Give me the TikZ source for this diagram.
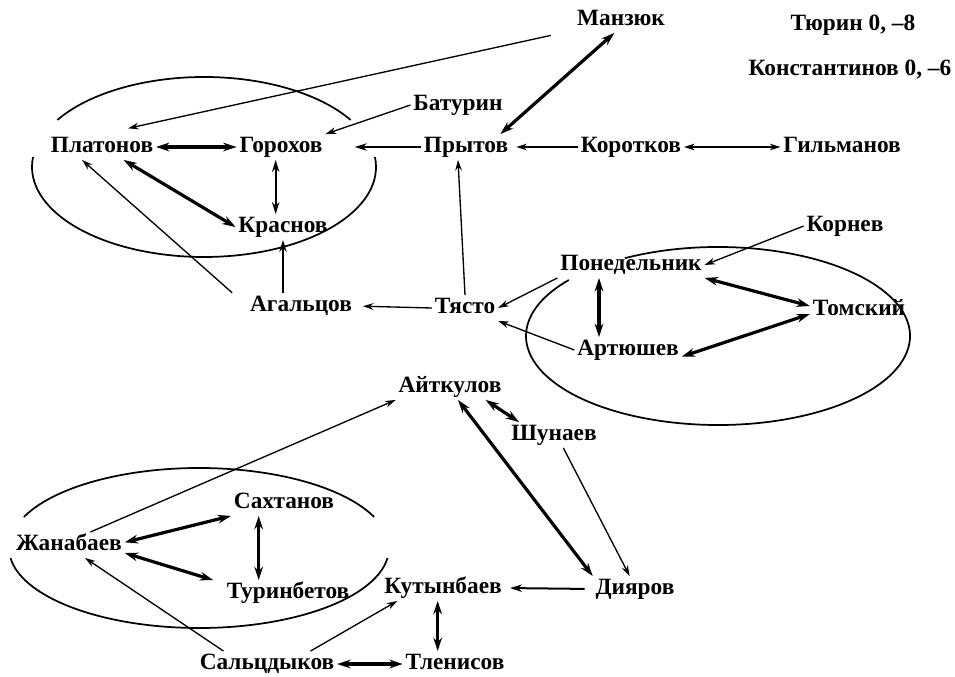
\documentclass[tikz,border=0pt]{standalone}
\usepackage{fontspec}
\setmainfont{Liberation Serif}
\usetikzlibrary{arrows.meta}
\begin{document}
\begin{tikzpicture}[x=0.75pt,y=-0.75pt,
  lbl/.style={inner sep=2pt, text height=11.5pt, text depth=3.5pt, font=\fontsize{17.5}{20}\selectfont\bfseries},
  ell/.style={line width=1.3pt},
  a1/.style={line width=1pt,-{Stealth[length=8pt,width=5pt]}},
  a2/.style={line width=1pt,{Stealth[length=8pt,width=5pt]}-{Stealth[length=8pt,width=5pt]}},
  m1/.style={line width=1.5pt,-{Stealth[length=9pt,width=5.5pt]}},
  m2/.style={line width=1.5pt,{Stealth[length=9pt,width=5.5pt]}-{Stealth[length=9pt,width=5.5pt]}},
  b2/.style={line width=2.4pt,{Stealth[length=10pt,width=6.5pt]}-{Stealth[length=10pt,width=6.5pt]}}
]
\useasboundingbox[fill=white] (0,0) rectangle (955,677);

% ellipses
\draw[ell] (204,167) ++(211.5:172 and 90) arc[start angle=211.5, end angle=328.5, x radius=172, y radius=90];
\draw[ell] (204,167) ++(-6.4:172 and 90) arc[start angle=-6.4, end angle=186.4, x radius=172, y radius=90];
\draw[ell] (718,336) ++(241:192 and 89) arc[start angle=241, end angle=579, x radius=192, y radius=89];
\draw[ell] (199,548) ++(202.8:190 and 80) arc[start angle=202.8, end angle=337.2, x radius=190, y radius=80];
\draw[ell] (199,548) ++(7.2:190 and 80) arc[start angle=7.2, end angle=172.8, x radius=190, y radius=80];

% nodes
\node[lbl] (man) at (621,20) {Манзюк};
\node[lbl] (tyu) at (853,25) {Тюрин 0, –8};
\node[lbl] (kon) at (850,70) {Константинов 0, –6};
\node[lbl] (bat) at (458,105) {Батурин};
\node[lbl] (pla) at (102,147) {Платонов};
\node[lbl] (gor) at (281,147) {Горохов};
\node[lbl] (pry) at (466,147) {Прытов};
\node[lbl] (kot) at (631,147) {Коротков};
\node[lbl] (gil) at (842,147) {Гильманов};
\node[lbl] (kra) at (283,227) {Краснов};
\node[lbl] (krn) at (845,226) {Корнев};
\node[lbl] (pon) at (631,265) {Понедельник};
\node[lbl] (aga) at (301,306) {Агальцов};
\node[lbl] (tya) at (465,308) {Тясто};
\node[lbl] (tom) at (859,310) {Томский};
\node[lbl] (art) at (628,350) {Артюшев};
\node[lbl] (ajt) at (450,387) {Айткулов};
\node[lbl] (shu) at (554,435) {Шунаев};
\node[lbl] (sah) at (284,503) {Сахтанов};
\node[lbl] (zha) at (69,545) {Жанабаев};
\node[lbl] (tur) at (288,593) {Туринбетов};
\node[lbl] (kut) at (443,588) {Кутынбаев};
\node[lbl] (diy) at (635,589) {Дияров};
\node[lbl] (sal) at (267,664) {Сальцдыков};
\node[lbl] (tle) at (455,664) {Тленисов};

% connectors
\draw[a1, shorten <=18pt, shorten >=20pt] (man) -- (pla.north);
\draw[a1] (bat.west) -- (gor.north east);
\draw[m1, shorten >=22pt] (pry.west) -- (gor.east);
\draw[b2] ([xshift=-8pt]pry.north east) -- ([xshift=-5pt]man.south);
\draw[a1, shorten >=4pt] (kot.west) -- (pry.east);
\draw[a2] (kot.east) -- (gil.west);
\draw[b2] (pla.east) -- (gor.west);
\draw[m2] ([xshift=-4pt]gor.south) -- ([xshift=-4pt]gor.south |- kra.north);
\draw[b2] (pla) -- (kra.west);
\draw[m1] (kra.south |- aga.north) -- (kra.south);
\draw[a1, shorten <=15pt] (aga.west) -- ([xshift=-15pt]pla.south);
\draw[a1, shorten >=6pt] (tya.west) -- (aga.east);
\draw[a1] (tya.north) -- ([xshift=-6pt]pry.south);
\draw[a1] (pon.south west) -- (tya.east);
\draw[a1] (art.west) -- (tya.south east);
\draw[a1] (krn.west) -- (pon.east);
\draw[b2] ([xshift=-24pt]pon.south) -- ([xshift=-24pt]pon.south |- art.north);
\draw[b2] (pon.south east) -- ([yshift=3pt]tom.west);
\draw[b2] ([yshift=-5pt]art.east) -- ([yshift=-3pt]tom.west);
\draw[b2] ([xshift=-14pt]ajt.south east) -- ([xshift=8pt]shu.north west);
\draw[b2] ([xshift=6pt]ajt.south) -- (diy.north west);
\draw[a1] ([xshift=7pt]shu.south) -- ([xshift=-4pt]diy.north);
\draw[m1, shorten <=6pt, shorten >=4pt] (diy.west) -- (kut.east);
\draw[b2] ([xshift=-4pt]kut.south) -- ([xshift=-4pt]kut.south |- tle.north);
\draw[b2] (sal.east) -- (tle.west);
\draw[a1] ([xshift=-20pt]sal.north east) -- ([xshift=12pt]kut.south west);
\draw[a1] ([xshift=20pt]sal.north west) -- ([xshift=12pt]zha.south);
\draw[a1] ([xshift=16pt]zha.north) -- (ajt.south west);
\draw[b2] ([yshift=2pt]zha.east) -- (sah.south west);
\draw[b2] ([yshift=-6pt]zha.east) -- ([xshift=-8pt]tur.north west);
\draw[b2] ([xshift=-19pt]sah.south) -- ([xshift=-19pt]sah.south |- tur.north);
\end{tikzpicture}
\end{document}
